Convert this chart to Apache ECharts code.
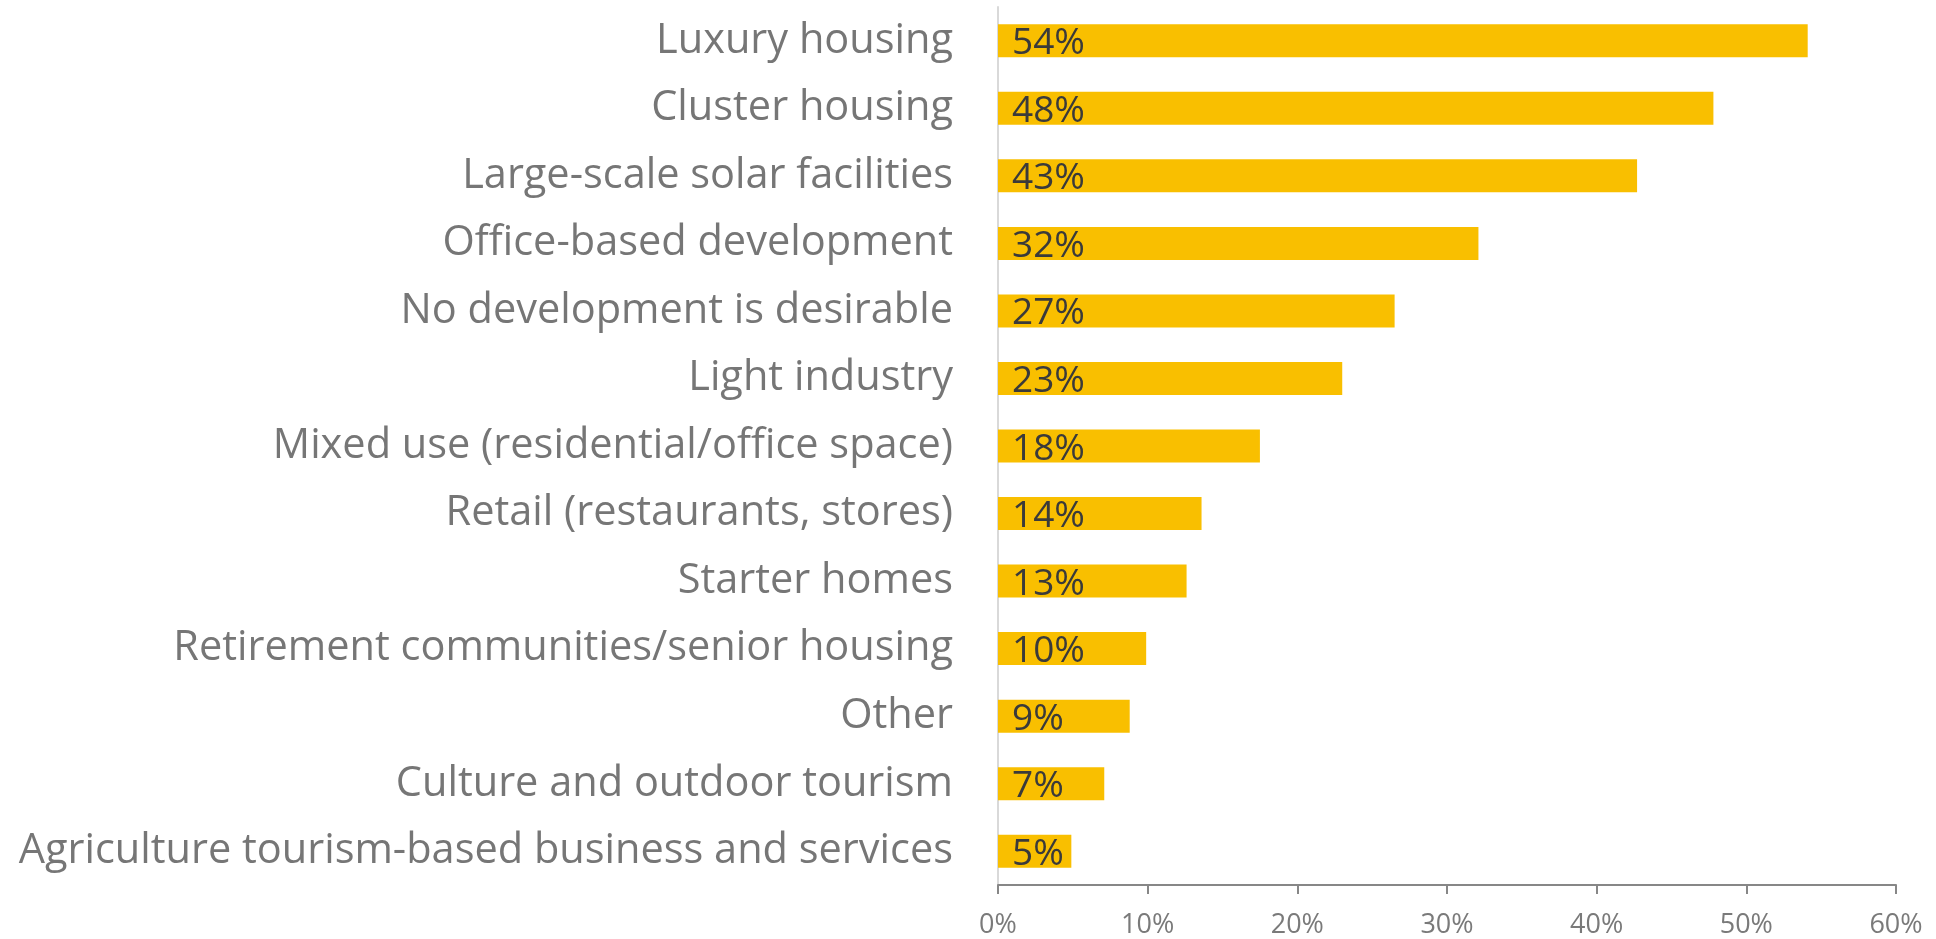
<!DOCTYPE html>
<html>
<head>
<meta charset="utf-8">
<script src="https://cdn.jsdelivr.net/npm/echarts@6/dist/echarts.min.js"></script>
<style>
  html, body { margin: 0; padding: 0; background: #fff; }
  #chart { width: 1936px; height: 939px; }
</style>
</head>
<body>
<div id="chart"></div>
<script>
const categories = [
  'Luxury housing',
  'Cluster housing',
  'Large-scale solar facilities',
  'Office-based development',
  'No development is desirable',
  'Light industry',
  'Mixed use (residential/office space)',
  'Retail (restaurants, stores)',
  'Starter homes',
  'Retirement communities/senior housing',
  'Other',
  'Culture and outdoor tourism',
  'Agriculture tourism-based business and services'
];
const shares = [54.1, 47.8, 42.7, 32.1, 26.5, 23.0, 17.5, 13.6, 12.6, 9.9, 8.8, 7.1, 4.9];
const tickValues = [0, 10, 20, 30, 40, 50, 60];

const chart = echarts.init(document.getElementById('chart'));

const option = {
  animation: false,
  grid: { left: 998, right: 40, top: 7, bottom: 53 },
  xAxis: {
    type: 'value',
    min: tickValues[0],
    max: tickValues[tickValues.length - 1],
    interval: 10,
    axisLine: { show: true, lineStyle: { color: '#878787', width: 2 } },
    axisTick: { show: true, length: 9, lineStyle: { color: '#878787', width: 2 } },
    splitLine: { show: false },
    axisLabel: {
      formatter: v => v + '%',
      color: '#7a7a7a',
      fontFamily: 'Open Sans',
      fontSize: 27,
      margin: 27
    }
  },
  yAxis: {
    type: 'category',
    data: categories,
    inverse: true,
    axisLine: { show: true, lineStyle: { color: '#d9d9d9', width: 2 } },
    axisTick: { show: false },
    axisLabel: {
      color: '#767676',
      fontFamily: 'Open Sans',
      fontSize: 41.5,
      margin: 45,
      padding: [8, 0, 0, 0]
    }
  },
  series: [{
    type: 'bar',
    data: shares,
    barWidth: 33,
    itemStyle: { color: '#F9BF00' },
    label: {
      show: true,
      position: 'insideLeft',
      distance: 14,
      offset: [0, 3],
      formatter: p => Math.round(p.value) + '%',
      color: '#3a3a3a',
      fontFamily: 'Open Sans',
      fontSize: 37
    }
  }]
};

chart.setOption(option);
</script>
</body>
</html>
